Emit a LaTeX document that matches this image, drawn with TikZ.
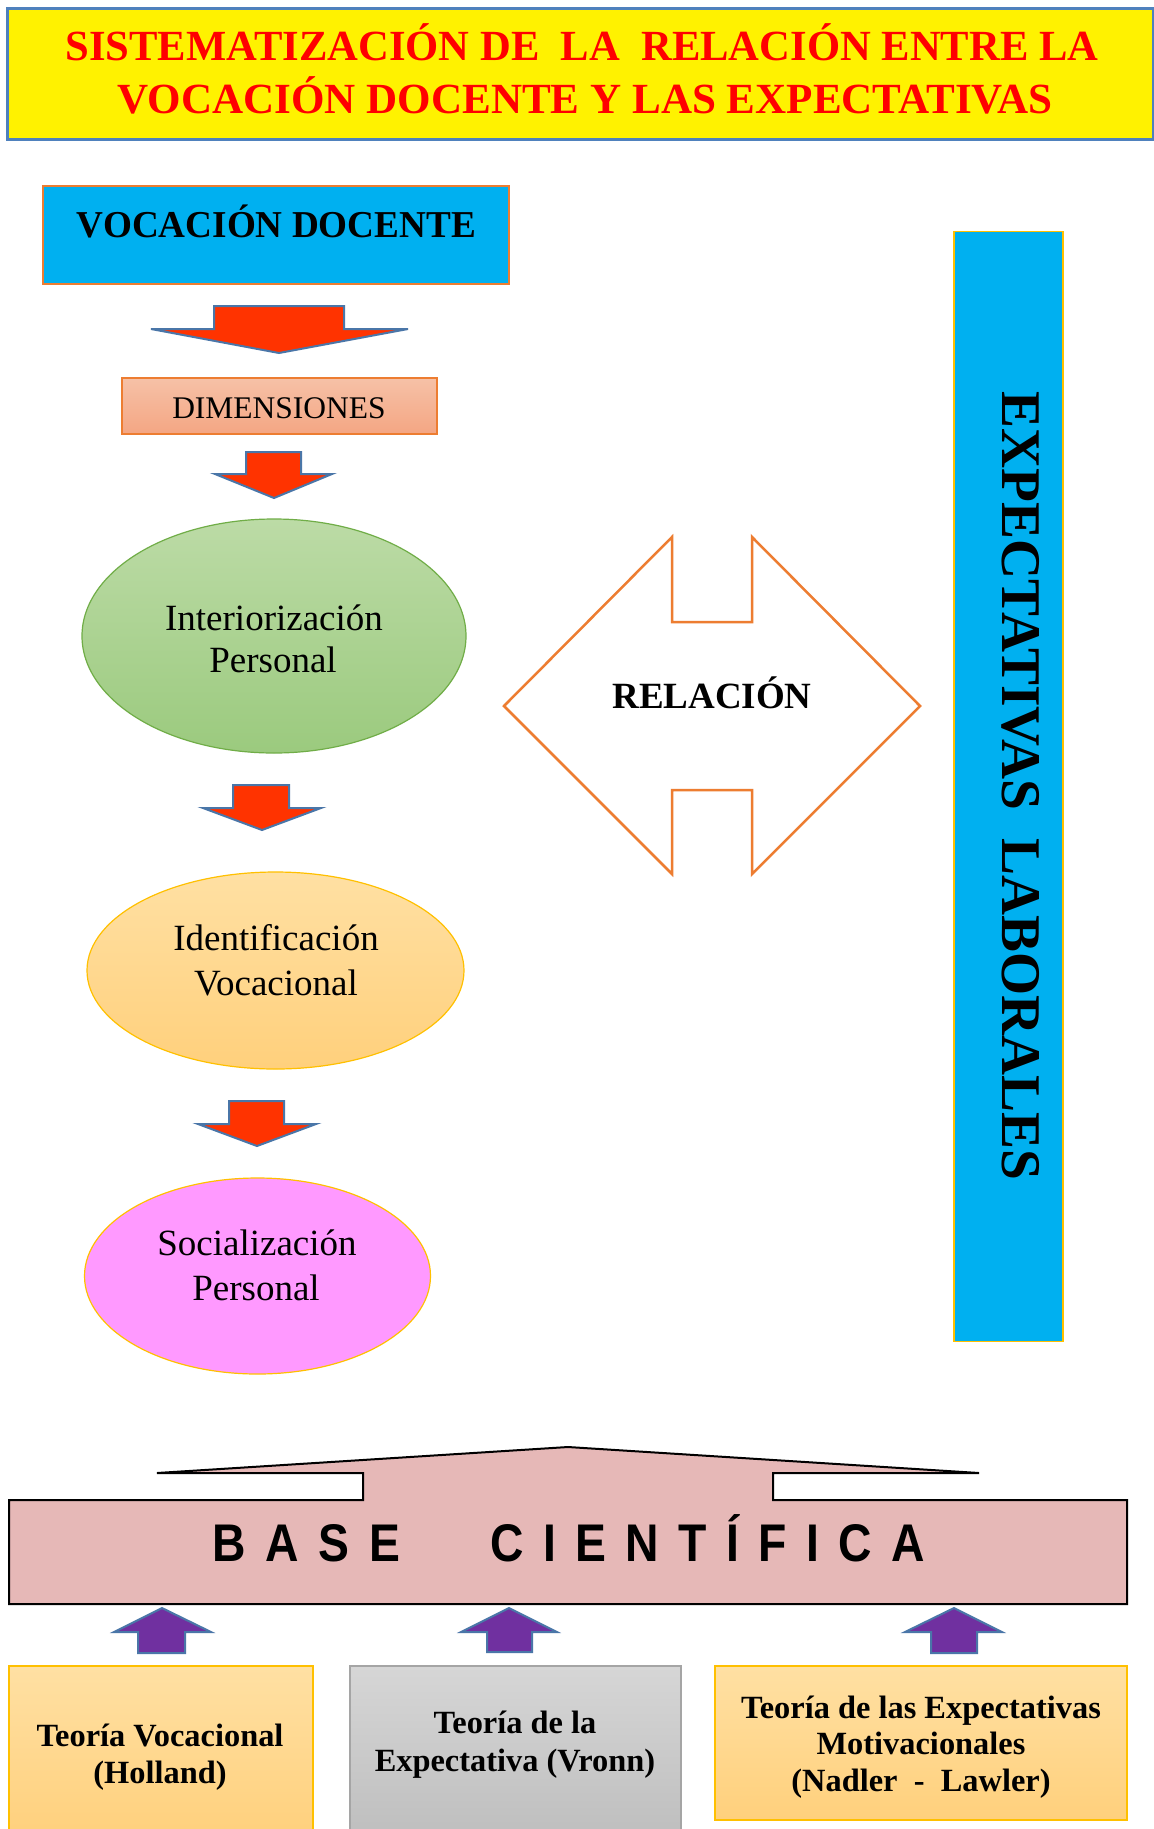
\documentclass[tikz,border=0pt]{standalone}
\usepackage{fontspec}
\usepackage{graphicx}
\setmainfont{Liberation Serif}
\newfontfamily\arialf{Liberation Sans}
\usetikzlibrary{shapes.geometric}
\definecolor{cyanb}{HTML}{00B0F0}
\definecolor{orb}{HTML}{ED7D31}
\definecolor{redar}{HTML}{FF3300}
\definecolor{arbd}{HTML}{4A76A8}
\definecolor{goldb}{HTML}{FFC000}
\definecolor{purp}{HTML}{7030A0}
\definecolor{basep}{HTML}{E6B8B7}
\definecolor{titlebd}{HTML}{4F81BD}
\definecolor{redtxt}{HTML}{FF0000}
\definecolor{grnbd}{HTML}{70AD47}
\definecolor{grntop}{HTML}{BCDBA6}
\definecolor{grnbot}{HTML}{9BCA7E}
\definecolor{orgtop}{HTML}{FFE0A3}
\definecolor{orgbot}{HTML}{FFD07C}
\definecolor{pinkf}{HTML}{FF99FF}
\definecolor{saltop}{HTML}{F6C1A7}
\definecolor{salbot}{HTML}{F4A683}
\definecolor{graytop}{HTML}{D6D6D6}
\definecolor{graybot}{HTML}{BEBEBE}
\definecolor{graybd}{HTML}{A5A5A5}
\tikzset{
  redarrow/.style={fill=redar, draw=arbd, line width=2pt, line join=miter},
  purparrow/.style={fill=purp, draw=arbd, line width=2pt, line join=miter},
  boxshape/.style={rectangle, inner sep=0pt, outer sep=0pt},
  txt/.style={anchor=base, inner sep=0pt, outer sep=0pt},
  ell/.style={ellipse, inner sep=0pt, line width=1.2pt},
  ellfont/.style={font=\fontsize{37}{44}\selectfont},
  botfont/.style={font=\fontsize{32.4}{38}\selectfont\bfseries},
  orgbox/.style={boxshape, top color=orgtop, bottom color=orgbot, draw=goldb, line width=1.5pt},
}
\begin{document}
\begin{tikzpicture}[x=1pt,y=-1pt]
\useasboundingbox (0,0) rectangle (1154,1829);
\fill[white] (0,0) rectangle (1154,1829);

% title
\node[boxshape, fill=yellow, draw=titlebd, line width=3pt, minimum width=1146pt, minimum height=131pt] (title) at (580,73.5) {};
\node[txt, text=redtxt] (title1) at (582,60) {\resizebox{1033pt}{\height}{\fontsize{43}{50}\selectfont\bfseries SISTEMATIZACIÓN DE\ \ LA\ \ RELACIÓN ENTRE LA}};
\node[txt, text=redtxt] (title2) at (585,113) {\resizebox{935pt}{\height}{\fontsize{43}{50}\selectfont\bfseries VOCACIÓN DOCENTE Y LAS EXPECTATIVAS}};

% vocacion docente
\node[boxshape, fill=cyanb, draw=orb, line width=2pt, minimum width=466pt, minimum height=98pt] (voc) at (276,235) {};
\node[txt] (voctxt) at (276.5,237) {\resizebox{399pt}{\height}{\fontsize{38}{44}\selectfont\bfseries VOCACIÓN DOCENTE}};

% arrow 1
\draw[redarrow] (214,306) -- (344,306) -- (344,329) -- (408,329) -- (279,353) -- (151,329) -- (214,329) -- cycle;

% dimensiones
\node[boxshape, top color=saltop, bottom color=salbot, draw=orb, line width=1.5pt, minimum width=315pt, minimum height=56pt] (dim) at (279.5,406) {};
\node[txt] (dimtxt) at (279,418) {\fontsize{31.5}{36}\selectfont DIMENSIONES};

% arrow 2
\draw[redarrow] (246,452) -- (301,452) -- (301,474) -- (332,474) -- (274,498) -- (215,474) -- (246,474) -- cycle;

% ellipse 1
\node[ell, top color=grntop, bottom color=grnbot, draw=grnbd, minimum width=384pt, minimum height=234pt] (inter) at (274,636) {};
\node[txt, ellfont] (inter1) at (274,630) {Interiorización};
\node[txt, ellfont] (inter2) at (273,672) {Personal};

% arrow 3
\draw[redarrow] (233,785) -- (289,785) -- (289,808) -- (321,808) -- (262,830) -- (203,808) -- (233,808) -- cycle;

% ellipse 2
\node[ell, top color=orgtop, bottom color=orgbot, draw=goldb, minimum width=377pt, minimum height=197pt] (ident) at (275.5,970.5) {};
\node[txt, ellfont] (ident1) at (276,950) {Identificación};
\node[txt, ellfont] (ident2) at (276,995) {Vocacional};

% arrow 4
\draw[redarrow] (229,1101) -- (284,1101) -- (284,1124) -- (316,1124) -- (257,1146) -- (198,1124) -- (229,1124) -- cycle;

% ellipse 3
\node[ell, fill=pinkf, draw=goldb, minimum width=346pt, minimum height=196pt] (social) at (257.5,1276) {};
\node[txt, ellfont] (social1) at (257,1255) {Socialización};
\node[txt, ellfont] (social2) at (256,1300) {Personal};

% relacion double arrow
\draw[draw=orb, fill=white, line width=2.5pt, line join=miter]
  (504,706) -- (672,537) -- (672,622) -- (752,622) -- (752,537) -- (920,706)
  -- (752,874) -- (752,790) -- (672,790) -- (672,874) -- cycle;
\node[txt] (reltxt) at (712,708) {\fontsize{37}{44}\selectfont\bfseries RELACIÓN};

% expectativas laborales
\node[boxshape, fill=cyanb, draw=goldb, line width=1.5pt, minimum width=109pt, minimum height=1110pt] (expl) at (1008.5,786.5) {};
\node[txt, rotate=-90] (expltxt) at (1002,786) {\resizebox{788pt}{\height}{\fontsize{56}{60}\selectfont\bfseries EXPECTATIVAS\ \ LABORALES}};

% base cientifica
\draw[fill=basep, draw=black, line width=2pt, line join=miter]
  (9,1500) -- (363,1500) -- (363,1473) -- (157,1473) -- (568,1447) -- (979,1473)
  -- (773,1473) -- (773,1500) -- (1127,1500) -- (1127,1604) -- (9,1604) -- cycle;
\node[txt] (basetxt) at (569,1561) {\resizebox{712pt}{\height}{\fontsize{53}{60}\selectfont\arialf\bfseries B\hspace{0.42em}A\hspace{0.42em}S\hspace{0.42em}E\hspace{1.95em}C\hspace{0.42em}I\hspace{0.42em}E\hspace{0.42em}N\hspace{0.42em}T\hspace{0.42em}Í\hspace{0.42em}F\hspace{0.42em}I\hspace{0.42em}C\hspace{0.42em}A}};

% purple arrows
\draw[purparrow] (162,1608) -- (211,1632) -- (185,1632) -- (185,1653) -- (138,1653) -- (138,1632) -- (114,1632) -- cycle;
\draw[purparrow] (509,1608) -- (557,1632) -- (532,1632) -- (532,1652) -- (487,1652) -- (487,1632) -- (461,1632) -- cycle;
\draw[purparrow] (954,1608) -- (1002,1632) -- (977,1632) -- (977,1653) -- (931,1653) -- (931,1632) -- (905,1632) -- cycle;

% bottom boxes
\draw[orgbox] (9,1840) -- (9,1666) -- (313,1666) -- (313,1840);
\node[txt, botfont] (b1a) at (160,1746) {Teoría Vocacional};
\node[txt, botfont] (b1b) at (160,1783) {(Holland)};

\draw[boxshape, top color=graytop, bottom color=graybot, draw=graybd, line width=1.5pt] (350,1840) -- (350,1666) -- (681,1666) -- (681,1840);
\node[txt, botfont] (b2a) at (515,1733) {Teoría de la};
\node[txt, botfont] (b2b) at (515,1771) {Expectativa (Vronn)};

\node[orgbox, minimum width=412pt, minimum height=154pt] (b3) at (921,1743) {};
\node[txt, botfont] (b3a) at (921,1718) {Teoría de las Expectativas};
\node[txt, botfont] (b3b) at (921,1754) {Motivacionales};
\node[txt, botfont] (b3c) at (921,1791) {(Nadler\ \ -\ \ Lawler)};
\end{tikzpicture}
\end{document}
